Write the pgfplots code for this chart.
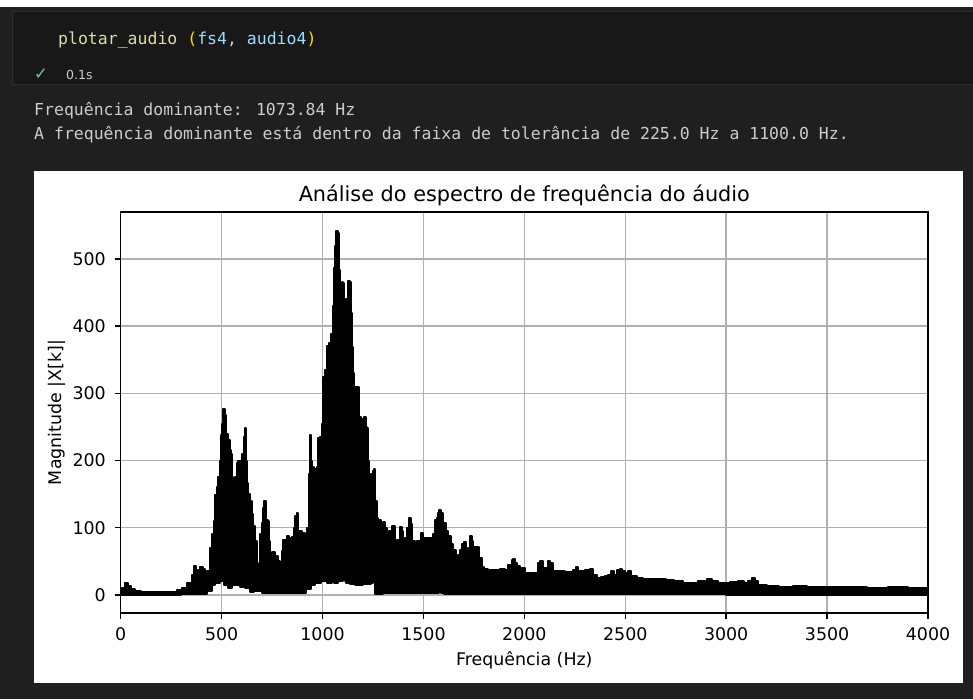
\documentclass[border=0pt]{standalone}
\usepackage{fontspec}
\setmainfont{DejaVu Sans}
\newfontfamily\mono{DejaVu Sans Mono}
\usepackage{pgfplots}
\pgfplotsset{compat=1.18}
\definecolor{bgdark}{HTML}{1F1F1F}
\definecolor{celldark}{HTML}{181818}
\definecolor{cellborder}{HTML}{2E2E2E}
\definecolor{txtgray}{HTML}{CCCCCC}
\definecolor{fnyellow}{HTML}{DCDCAA}
\definecolor{parengold}{HTML}{FFD700}
\definecolor{varblue}{HTML}{9CDCFE}
\definecolor{okgreen}{HTML}{73C991}
\definecolor{gridgray}{HTML}{B0B0B0}

\begin{document}
\begin{tikzpicture}[x=1pt,y=1pt]
\path[use as bounding box] (0,0) rectangle (973,699);
% notebook background
\fill[bgdark] (0,0) rectangle (973,699);
\fill[white] (0,692) rectangle (973,699);
\filldraw[fill=celldark, draw=cellborder, line width=1pt] (12,614) rectangle (985,687);
\node[anchor=base west, inner sep=0pt] at (58,654) {\mono\fontsize{16.5}{20}\selectfont
  \textcolor{fnyellow}{plotar\_audio} \textcolor{parengold}{(}\textcolor{varblue}{fs4}\textcolor{txtgray}{,} \textcolor{varblue}{audio4}\textcolor{parengold}{)}};
\node[anchor=base west, inner sep=0pt, text=okgreen] at (34,619) {\fontsize{16.5}{18}\selectfont ✓};
\node[anchor=base west, inner sep=0pt, text=txtgray] at (66,619) {\fontsize{12.5}{15}\selectfont 0.1s};
\node[anchor=base west, inner sep=0pt, text=txtgray] at (34,583) {\mono\fontsize{16.5}{20}\selectfont Frequência dominante: 1073.84 Hz};
\node[anchor=base west, inner sep=0pt, text=txtgray] at (34,559) {\mono\fontsize{16.5}{20}\selectfont A frequência dominante está dentro da faixa de tolerância de 225.0 Hz a 1100.0 Hz.};
% figure canvas
\fill[white] (34,16) rectangle (963,528);

\begin{axis}[
    at={(120.7pt,86pt)}, anchor=south west,
    width=807.3pt, height=401pt, scale only axis,
    xmin=0, xmax=4000, ymin=-27, ymax=570,
    xtick={0,500,...,4000}, ytick={0,100,...,500},
    xtick pos=bottom, ytick pos=left,
    scaled ticks=false,
    /pgf/number format/set thousands separator={},
    /pgf/number format/assume math mode=true,
    grid=major,
    major grid style={gridgray, line width=1.4pt},
    axis line style={black, line width=1.4pt},
    tick align=outside, major tick length=6pt,
    tick style={black, line width=1.4pt},
    xticklabel style={font=\fontsize{17.4}{20}\selectfont, anchor=north, inner sep=0pt, yshift=-8pt},
    yticklabel style={font=\fontsize{17.4}{20}\selectfont, anchor=east, inner sep=0pt, xshift=-8.7pt},
]
% spectrum |X[k]|: upper envelope, then lower envelope back
\addplot[const plot, draw=black, fill=black, line width=2pt, line join=round] coordinates {
(0,3) (8,10) (21,17) (35,13) (50,8) (70,6) (100,4) (137,4) (200,4) (250,5) (280,7) (302,10)
(327,17) (352,29) (365,43) (372,36) (385,37) (395,42) (409,39) (420,33) (430,36) (442,70)
(451,90) (460,110) (467,148) (475,160) (484,175) (490,200) (497,238) (503,255) (509,277)
(515,268) (522,240) (533,230) (540,215) (547,210) (553,175) (558,148) (566,175) (575,197)
(583,200) (591,200) (597,180) (603,210) (609,235) (616,248) (620,200) (626,166) (633,150)
(641,140) (649,120) (657,102) (665,80) (674,47) (682,44) (690,90) (698,107) (706,130)
(711,140) (715,140) (722,112) (728,110) (734,80) (740,55) (752,64) (765,58) (778,50)
(790,48) (798,65) (806,82) (814,82) (822,87) (835,85) (847,86) (858,100) (866,118) (872,122)
(880,95) (897,92) (905,92) (913,90) (925,100) (932,180) (938,238) (944,200) (949,190)
(956,187) (963,188) (971,190) (979,233) (987,235) (996,255) (1004,325) (1012,335) (1020,370)
(1030,375) (1040,389) (1050,430) (1057,486) (1062,520) (1068,542) (1076,539) (1080,484)
(1085,440) (1089,438) (1094,466) (1102,465) (1107,420) (1112,409) (1118,440) (1124,468)
(1136,466) (1140,420) (1144,369) (1150,330) (1156,310) (1166,310) (1174,310) (1180,265)
(1190,262) (1200,262) (1207,265) (1215,250) (1220,248) (1226,200) (1232,166) (1240,180)
(1248,185) (1257,188) (1262,140) (1270,115) (1277,111) (1290,106) (1302,108) (1310,100)
(1318,92) (1330,95) (1343,103) (1348,102) (1359,77) (1370,82) (1384,101) (1392,95)
(1400,77) (1410,85) (1420,100) (1428,115) (1436,105) (1445,80) (1458,64) (1470,80)
(1488,92) (1498,85) (1507,84) (1532,84) (1545,90) (1557,112) (1566,115) (1573,122)
(1579,127) (1586,122) (1598,107) (1610,95) (1623,87) (1636,75) (1648,67) (1660,55)
(1670,60) (1681,67) (1692,75) (1703,79) (1712,67) (1722,70) (1733,88) (1740,80) (1748,72)
(1764,72) (1775,55) (1789,42) (1800,38) (1822,37) (1850,37) (1880,38) (1904,37) (1920,44)
(1937,52) (1946,53) (1955,48) (1965,43) (1980,40) (2003,32) (2030,33) (2053,32) (2068,48)
(2078,50) (2090,40) (2100,40) (2115,50) (2125,47) (2144,36) (2177,35) (2200,34) (2220,34)
(2240,37) (2256,41) (2265,35) (2280,35) (2300,37) (2325,38) (2340,30) (2360,25) (2380,27)
(2400,28) (2416,30) (2430,36) (2445,30) (2460,37) (2474,39) (2485,36) (2500,33) (2515,36)
(2530,28) (2560,25) (2589,23) (2620,23) (2650,24) (2680,23) (2700,22) (2740,20) (2788,18)
(2820,18) (2860,20) (2903,23) (2930,20) (2960,18) (2990,17) (3020,19) (3060,21) (3090,18)
(3110,20) (3130,25) (3145,20) (3160,15) (3200,13) (3260,12) (3333,13) (3400,12) (3500,11)
(3600,11) (3700,10) (3800,11) (3900,10) (4000,10)
(4000,0) (3000,1) (2200,2) (1600,3) (1585,12) (1575,3) (1300,2) (1262,2) (1258,30)
(1252,56) (1248,18) (1240,16) (1200,14) (1160,16) (1136,18) (1131,52) (1126,18) (1114,20)
(1111,27) (1108,25) (1100,20) (1095,50) (1090,20) (1075,18) (1058,20) (1053,62) (1048,18)
(1020,20) (990,18) (965,15) (945,8) (920,3) (740,3) (700,6) (660,4) (640,10) (615,12)
(590,14) (570,15) (550,10) (530,15) (510,20) (490,18) (465,14) (450,6) (430,1) (300,0) (0,0)
} -- cycle;
\end{axis}

% title and axis labels
\node[anchor=base, inner sep=0pt] at (524.3,497.5) {\fontsize{20.8}{24}\selectfont Análise do espectro de frequência do áudio};
\node[anchor=base, inner sep=0pt] at (524.3,34) {\fontsize{17.4}{20}\selectfont Frequência (Hz)};
\node[rotate=90, inner sep=0pt] at (57,286.5) {\fontsize{17.4}{20}\selectfont Magnitude |X[k]|};
\end{tikzpicture}
\end{document}
